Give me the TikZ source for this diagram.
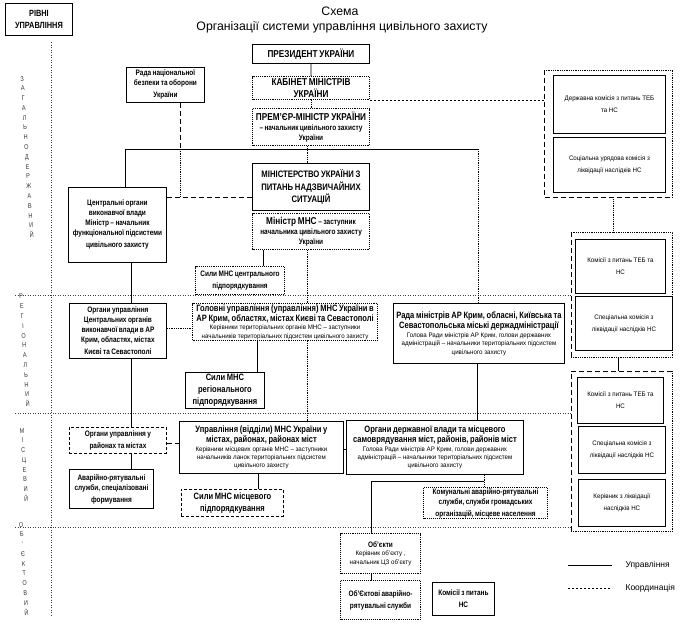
\documentclass[tikz,border=0pt]{standalone}
\usepackage{fontspec}
\setmainfont{Liberation Sans}[FakeStretch=0.82, WordSpace=0.8]
\newfontfamily\regf{Liberation Sans}
\newfontfamily\smallf{Liberation Sans}[FakeStretch=0.95]
\usetikzlibrary{calc}
\newcommand\fT{\regf\fontsize{12.3}{14}\selectfont}
\newcommand\fH{\fontsize{10}{11}\selectfont\bfseries}
\newcommand\fM{\fontsize{9.4}{13}\selectfont\bfseries}
\newcommand\fBB{\fontsize{9.2}{10.5}\selectfont\bfseries}
\newcommand\fSil{\fontsize{9.2}{11.5}\selectfont\bfseries}
\newcommand\fB{\fontsize{9}{12}\selectfont\bfseries}
\newcommand\fBs{\fontsize{7.9}{10}\selectfont\bfseries}
\newcommand\fN{\smallf\fontsize{6.5}{8.4}\selectfont}
\newcommand\fLeg{\regf\fontsize{8.5}{10}\selectfont}
\newcommand{\bx}[7]{\node[#1,anchor=north west,minimum height=#6pt,text width=\dimexpr#5pt-4pt\relax] (#2) at (#3,#4) {#7};}
\tikzset{
  sb/.style={draw, line width=0.9pt, fill=white, align=flush center, inner xsep=2pt, inner ysep=0.8pt},
  db/.style={sb, densely dotted, line width=1.1pt},
  dsb/.style={sb, dash pattern=on 3pt off 2pt},
  ctl/.style={line width=0.9pt},
  crd/.style={line width=0.8pt, dash pattern=on 5pt off 3pt},
  crdot/.style={line width=0.8pt, densely dotted},
  crdsm/.style={line width=0.8pt, dash pattern=on 2pt off 2pt},
  lvl/.style={line width=0.5pt, dotted, black!75},
  grp/.style={anchor=north west, inner sep=0pt},
  lvtext/.style={anchor=north, rotate=3.5, align=flush center, text width=8pt, inner sep=0pt, black!80,
     font=\fontsize{6.8}{9.8}\selectfont},
}
\begin{document}
\begin{tikzpicture}[x=1pt,y=-1pt]
\useasboundingbox (0,0) rectangle (684,624);
% titles
\bx{sb}{rivni}{5}{3}{67}{32}{\fB РІВНІ\\УПРАВЛІННЯ}
\node (t1) at (340,11) {\fT Схема};
\node (t2) at (342,27) {\fT Організації системи управління цивільного захисту};
% level labels
\node[lvtext] (lv1) at (22,76) {З\\А\\Г\\А\\Л\\Ь\\Н\\О\\Д\\Е\\Р\\Ж\\А\\В\\Н\\И\\Й};
\node[lvtext] (lv2) at (21,294) {Р\\Е\\Г\\І\\О\\Н\\А\\Л\\Ь\\Н\\И\\Й};
\node[lvtext] (lv3) at (22,428) {М\\І\\С\\Ц\\Е\\В\\И\\Й};
\node[lvtext] (lv4) at (21,522) {О\\Б\\’\\Є\\К\\Т\\О\\В\\И\\Й};
% left vertical line
\coordinate (vA) at (51,42); \coordinate (vB) at (51,615);
\draw[lvl] (vA) -- (vB);
% central column
\bx{sb}{pres}{252}{44}{117}{19}{\fH ПРЕЗИДЕНТ УКРАЇНИ}
\bx{db}{kab}{252}{76}{117}{23}{\fH КАБІНЕТ МІНІСТРІВ\\УКРАЇНИ}
\bx{db}{prem}{252}{108}{117}{37}{{\fH ПРЕМ’ЄР-МІНІСТР УКРАЇНИ\par}{\fBs – начальник цивільного захисту\\України\par}}
\bx{sb}{nbo}{126}{67}{78}{35}{\fBs Рада національної\\безпеки та оборони\\України}
\bx{sb}{mns}{252}{163}{117}{47}{\fM МІНІСТЕРСТВО УКРАЇНИ З\\ПИТАНЬ НАДЗВИЧАЙНИХ\\СИТУАЦІЙ}
\bx{db}{min}{252}{213}{117}{36}{{\fH Міністр МНС \fBs – заступник\par}{\fBs начальника цивільного захисту\\України\par}}
\bx{db}{silc}{195}{266}{89}{28}{\fBs Сили МНС центрального\\підпорядкування}
\bx{sb}{cov}{68}{187}{98}{75}{\fBs Центральні органи\\виконавчої влади\\Міністр – начальник\\функціональної підсистеми\\цивільного захисту}
% regional
\bx{sb}{ouc}{69}{303}{97}{55}{\fBs Органи управління\\Центральних органів\\виконавчої влади в АР\\Крим, областях, містах\\Києві та Севастополі}
\bx{db}{gu}{192}{303}{185}{37}{{\fBB Головні управління (управління) МНС України в\\АР Крим, областях, містах Києві та Севастополі\par}{\fN Керівники територіальних органів МНС – заступники\\начальників територіальних підсистем цивільного захисту\par}}
\bx{sb}{silr}{185}{372}{79}{36}{\fSil Сили МНС\\регіонального\\підпорядкування}
\bx{sb}{rm}{393}{303}{171}{60}{{\fBB Рада міністрів АР Крим, обласні, Київська та\\Севастопольська міські держадміністрації\par}{\fN Голова Ради міністрів АР Крим, голови державних\\адміністрацій – начальники територіальних підсистем\\цивільного захисту\par}}
% local
\bx{dsb}{our}{69}{427}{97}{26}{\fBs Органи управління у\\районах та містах}
\bx{sb}{avr}{69}{469}{84}{39}{\fBs Аварійно-рятувальні\\служби, спеціалізовані\\формування}
\bx{sb}{upr}{179}{421}{164}{52}{{\fBB Управління (відділи) МНС України у\\містах, районах, районах міст\par}{\fN Керівники місцевих органів МНС – заступники\\начальників ланок територіальних підсистем\\цивільного захисту\par}}
\bx{dsb}{silm}{181}{489}{102}{27}{\fSil Сили МНС місцевого\\підпорядкування}
\bx{sb}{odv}{346}{420}{177}{54}{{\fBB Органи державної влади та місцевого\\самоврядування міст, районів, районів міст\par}{\fN Голова Ради міністрів АР Крим, голови державних\\адміністрацій – начальники територіальних підсистем\\цивільного захисту\par}}
\bx{db}{kom}{423}{487}{124}{31}{\fBs Комунальні аварійно-рятувальні\\служби, служби громадських\\організацій, місцеве населення}
% objects
\bx{db}{obj}{340}{533}{80}{40}{{\fBs Об’єкти\par}{\fN Керівник об’єкту ,\\начальник ЦЗ об’єкту\par}}
\bx{db}{objs}{340}{580}{80}{39}{\fBs Об’Єктові аварійно-\\рятувальні служби}
\bx{sb}{kns}{432}{582}{62}{33}{\fBs Комісії з питань\\НС}
% right groups
\node[grp, minimum width=128pt, minimum height=127pt] (G1) at (544,70) {};
\node[grp, minimum width=101pt, minimum height=125pt] (G2) at (571,232) {};
\node[grp, minimum width=101pt, minimum height=160pt] (G3) at (571,371) {};
\draw[crd] (G1.north west) -- (G1.south west) -- (G1.south east);
\draw[crdot] (G1.north west) -- (G1.north east) -- (G1.south east);
\draw[crd] (G2.north west) -- (G2.south west);
\draw[crdot] (G2.south west) -- (G2.south east) -- (G2.north east) -- (G2.north west);
\draw[crd] (G3.south west) -- (G3.north west) -- (G3.north east);
\draw[crdot] (G3.north east) -- (G3.south east) -- (G3.south west);
\bx{sb}{dk}{553}{75}{112}{58}{\fN Державна комісія з питань ТЕБ\\та НС}
\bx{sb}{suk}{553}{137}{112}{55}{\fN Соціальна урядова комісія з\\ліквідації наслідків НС}
\bx{sb}{rk1}{575}{239}{90}{54}{\fN Комісії з питань ТЕБ та\\НС}
\bx{sb}{rk2}{575}{296}{97}{54}{\fN Спеціальна комісія з\\ліквідації наслідків НС}
\bx{sb}{lk1}{577}{377}{86}{46}{\fN Комісії з питань ТЕБ та\\НС}
\bx{sb}{lk2}{578}{426}{87}{47}{\fN Спеціальна комісія з\\ліквідації наслідків НС}
\bx{sb}{lk3}{578}{479}{87}{47}{\fN Керівник з ліквідації\\наслідків НС}
% level separators
\coordinate (L1) at (15,295); \coordinate (L2) at (15,413); \coordinate (L3) at (15,527);
\draw[lvl] (L1) -- (G2.west |- L1);
\draw[lvl] (L2) -- (G3.west |- L2);
\draw[lvl] (L3) -- (G3.west |- L3);
% connectors
\coordinate (hL) at (125,149); \coordinate (hR) at (478,149);
\coordinate (c307) at (307,0); \coordinate (c263) at (263,0); \coordinate (c131) at (131,0);
\coordinate (c257) at (257,0); \coordinate (c477) at (477,0); \coordinate (c258) at (258,0);
\coordinate (c484) at (484,0); \coordinate (c613) at (613,0); \coordinate (c615) at (618,0);
\coordinate (nb1) at (180,149); \coordinate (nb2) at (180,197);
\coordinate (y328) at (0,328); \coordinate (y443) at (0,443); \coordinate (y449) at (0,449);
\coordinate (br) at (484,481); \coordinate (bl) at (371,481);
\draw[ctl] (pres.south) -- (kab.north);
\draw[crdot] (kab.south) -- (prem.north);
\draw[ctl] (cov.north -| hL) -- (hL) -- (hR);
\draw[crdot] (hR) -- (rm.north -| hR);
\draw[crdot] (prem.south -| c307) -- (mns.north -| c307);
\draw[crd] (nbo.south -| nb1) -- (nb1);
\draw[crdot] (nb1) -- (nb2);
\draw[crd] (cov.east |- nb2) -- (mns.west |- nb2);
\draw[crdsm] (kab.south east) -- (kab.south east -| G1.west);
\draw[ctl] (min.south -| c263) -- (silc.north -| c263);
\draw[crdot] (min.south -| c307) -- (gu.north -| c307);
\draw[ctl] (cov.south -| c131) -- (ouc.north -| c131);
\draw[ctl] (ouc.south -| c131) -- (our.north -| c131);
\draw[ctl] (our.south -| c131) -- (avr.north -| c131);
\draw[crdot] (ouc.east |- y328) -- (gu.west |- y328);
\draw[ctl] (gu.south -| c257) -- (silr.north -| c257);
\draw[crdot] (gu.south -| c307) -- (upr.north -| c307);
\draw[ctl] (rm.south -| c477) -- (odv.north -| c477);
\draw[crd] (our.east |- y443) -- (upr.west |- y443);
\draw[crd] (upr.east |- y449) -- (odv.west |- y449);
\draw[ctl] (upr.south -| c258) -- (silm.north -| c258);
\draw[crdot] (odv.south -| c484) -- (kom.north -| c484);
\draw[ctl] (br) -- (bl) -- (obj.north -| bl);
\draw[ctl] (obj.south -| bl) -- (objs.north -| bl);
\draw[crdot] (G1.south -| c613) -- (G2.north -| c613);
\draw[ctl] (G2.south -| c615) -- (G3.north -| c615);
% legend
\coordinate (lg1a) at (568,565); \coordinate (lg1b) at (612,565);
\coordinate (lg2a) at (568,588); \coordinate (lg2b) at (612,588);
\draw[ctl] (lg1a) -- (lg1b);
\draw[crdsm] (lg2a) -- (lg2b);
\node[anchor=west, font=\fLeg] (lgt1) at (622,565) {Управління};
\node[anchor=west, font=\fLeg] (lgt2) at (622,588) {Координація};
\end{tikzpicture}
\end{document}
